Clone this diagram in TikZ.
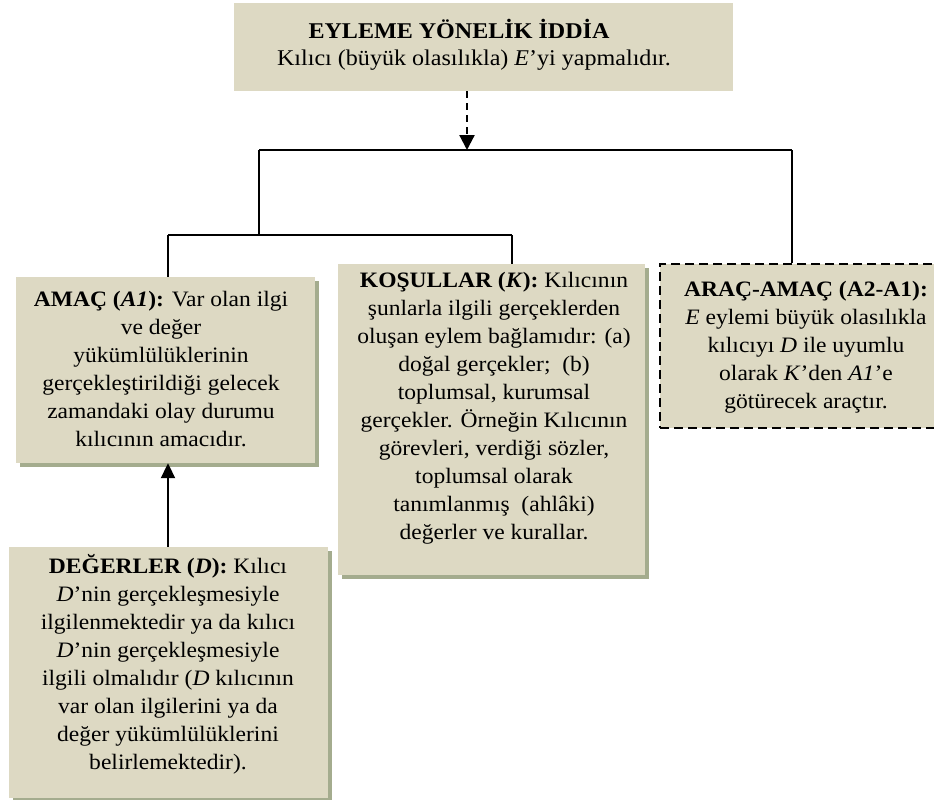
\documentclass[tikz,border=0pt]{standalone}
\usepackage{fontspec}
\setmainfont{Liberation Serif}[FakeStretch=1.07]
\usetikzlibrary{arrows.meta}
\definecolor{boxfill}{HTML}{DDD9C3}
\definecolor{shadowc}{HTML}{A4AC8E}
\tikzset{
  box/.style={fill=boxfill, draw=none, inner sep=0pt},
  txt/.style={align=center, inner sep=0pt, font=\fontsize{22}{28}\selectfont},
  toptxt/.style={align=center, inner sep=0pt, font=\fontsize{22.5}{26.5}\selectfont},
  conn/.style={line width=1.4pt},
  bigarrow/.style={line width=2pt, -{Triangle[length=15pt,width=14pt]}},
  dasharrow/.style={line width=2.2pt, dash pattern=on 7pt off 5pt, -{Triangle[length=15pt,width=15pt]}},
  dashbox/.style={box, draw=black, line width=2pt, dash pattern=on 9pt off 5pt},
}
\newcommand{\shadowof}[1]{\fill[shadowc] ([shift={(4,4)}]#1.north west) rectangle ([shift={(4,4)}]#1.south east);}
\begin{document}
\begin{tikzpicture}[x=1pt,y=-1pt]
\clip (0,0) rectangle (934,800);
\fill[white] (0,0) rectangle (934,800);
% shadows (drawn from named box geometry)
\path (165.5,370) node[minimum width=299pt, minimum height=186pt, inner sep=0pt] (amacs) {};
\path (491.5,419.5) node[minimum width=307pt, minimum height=311pt, inner sep=0pt] (koss) {};
\path (168.5,672.5) node[minimum width=319pt, minimum height=251pt, inner sep=0pt] (degs) {};
\shadowof{amacs}
\shadowof{koss}
\shadowof{degs}
% boxes
\node[box, minimum width=499pt, minimum height=88pt] (top) at (483.5,47) {};
\node[box, minimum width=299pt, minimum height=186pt] (amac) at (165.5,370) {};
\node[box, minimum width=307pt, minimum height=311pt] (kos) at (491.5,419.5) {};
\node[box, minimum width=319pt, minimum height=251pt] (deg) at (168.5,672.5) {};
\node[dashbox, minimum width=292pt, minimum height=164pt] (arac) at (806,346) {};
% texts
\node[toptxt] (toptext) at (474,45) {\textbf{EYLEME YÖNELİK İDDİA}\hspace*{30pt}\\Kılıcı (büyük olasılıkla) \textit{E}’yi yapmalıdır.};
\node[txt] (amactext) at (161,369) {\textbf{AMAÇ (\textit{A1}):} Var olan ilgi\\ve değer\\yükümlülüklerinin\\gerçekleştirildiği gelecek\\zamandaki olay durumu\\kılıcının amacıdır.};
\node[txt] (kostext) at (494,408) {\textbf{KOŞULLAR (\textit{K}):} Kılıcının\\şunlarla ilgili gerçeklerden\\oluşan eylem bağlamıdır: (a)\\doğal gerçekler;~ (b)\\toplumsal, kurumsal\\gerçekler. Örneğin Kılıcının\\görevleri, verdiği sözler,\\toplumsal olarak\\tanımlanmış~ (ahlâki)\\değerler ve kurallar.};
\node[txt] (aractext) at (806,347) {\textbf{ARAÇ-AMAÇ (A2-A1):}\\\textit{E} eylemi büyük olasılıkla\\kılıcıyı \textit{D} ile uyumlu\\olarak \textit{K}’den \textit{A1}’e\\götürecek araçtır.};
\node[txt] (degtext) at (168,664) {\textbf{DEĞERLER (\textit{D}):} Kılıcı\\\textit{D}’nin gerçekleşmesiyle\\ilgilenmektedir ya da kılıcı\\\textit{D}’nin gerçekleşmesiyle\\ilgili olmalıdır (\textit{D} kılıcının\\var olan ilgilerini ya da\\değer yükümlülüklerini\\belirlemektedir).};
% connectors
\coordinate (jtop) at (467,150);
\coordinate (jl) at (259,150);
\coordinate (jr) at (792,150);
\coordinate (jll) at (168,235);
\coordinate (jlm) at (259,235);
\coordinate (jlr) at (512,235);
\draw[dasharrow] (top.south -| jtop) -- (jtop);
\draw[conn] (jl) -- (jr);
\draw[conn] (jl) -- (jlm);
\draw[conn] (jll) -- (jlr);
\draw[conn] (jll) -- (jll |- amac.north);
\draw[conn] (jlr) -- (jlr |- kos.north);
\draw[conn] (jr) -- (jr |- arac.north);
\draw[bigarrow] (deg.north -| jll) -- (amac.south -| jll);
\end{tikzpicture}
\end{document}
